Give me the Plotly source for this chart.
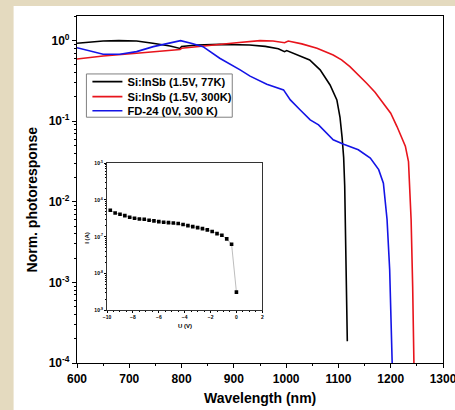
import plotly.graph_objects as go
import numpy as np

# ---------------- data ----------------
wl_77k = [600, 625, 650, 680, 714, 745, 778, 797, 800, 829, 873, 930, 960, 985, 997, 1001,
          1027, 1045, 1065, 1084, 1097, 1103, 1107, 1110, 1112, 1114, 1116, 1117]
resp_77k = [0.93, 0.966, 0.99, 1.0, 0.99, 0.927, 0.859, 0.80, 0.847, 0.885, 0.90, 0.885, 0.85,
            0.794, 0.731, 0.752, 0.634, 0.575, 0.434, 0.282, 0.184, 0.112, 0.063, 0.0355,
            0.0158, 0.00316, 0.00063, 0.000186]

wl_300k = [600, 650, 714, 778, 797, 800, 829, 873, 905, 950, 975, 997, 1004, 1030, 1059, 1090,
           1106, 1122, 1138, 1154, 1170, 1186, 1200, 1212, 1228, 1234, 1236, 1239, 1242, 1244.5]
resp_300k = [0.593, 0.646, 0.697, 0.751, 0.776, 0.804, 0.843, 0.91, 0.944, 1.0, 0.989, 0.944,
             0.991, 0.912, 0.804, 0.665, 0.577, 0.476, 0.38, 0.296, 0.229, 0.167, 0.126,
             0.0859, 0.049, 0.0316, 0.0141, 0.00603, 0.00089, 0.00009]

wl_fd24 = [600, 625, 650, 682, 714, 746, 778, 798, 820, 841, 873, 899, 912, 931, 963, 995,
           1001, 1008, 1027, 1046, 1062, 1068, 1090, 1110, 1138, 1161, 1177, 1186, 1193,
           1198, 1200.4, 1203]
resp_fd24 = [0.818, 0.741, 0.678, 0.678, 0.731, 0.843, 0.927, 1.0, 0.923, 0.843, 0.605, 0.49,
             0.434, 0.363, 0.288, 0.245, 0.212, 0.184, 0.138, 0.104, 0.0902, 0.082, 0.0589,
             0.0519, 0.0443, 0.0349, 0.0251, 0.017, 0.00603, 0.00145, 0.000347, 0.00009]

# inset I-V
u_volt = [-9.75, -9.375, -9.0, -8.625, -8.25, -7.875, -7.5, -7.125, -6.75, -6.375, -6.0,
          -5.625, -5.25, -4.875, -4.5, -4.125, -3.75, -3.375, -3.0, -2.625, -2.25, -1.875,
          -1.5, -1.125, -0.75, -0.375, 0.0]
i_amp = [5.25e-7, 4.45e-7, 4.09e-7, 3.76e-7, 3.39e-7, 3.18e-7, 3.05e-7, 2.99e-7, 2.81e-7,
         2.70e-7, 2.59e-7, 2.48e-7, 2.43e-7, 2.38e-7, 2.29e-7, 2.15e-7, 2.01e-7, 1.89e-7,
         1.78e-7, 1.67e-7, 1.54e-7, 1.39e-7, 1.22e-7, 1.10e-7, 8.77e-8, 6.30e-8, 3.15e-9]

main_exps = [-4, -3, -2, -1, 0]
inset_exps = [-9, -8, -7, -6, -5]
x_ticks = [600, 700, 800, 900, 1000, 1100, 1200, 1300]
inset_x_ticks = [-10, -8, -6, -4, -2, 0, 2]

names = ["Si:InSb (1.5V, 77K)", "Si:InSb (1.5V, 300K)", "FD-24 (0V, 300 K)"]
colors = ["#000000", "#e8141c", "#1414e6"]

# ---------------- figure ----------------
W, H = 455, 410
ml, mr, mt, mb = 77.3, 12.3, 16, 46.7
pw, ph = W - ml - mr, H - mt - mb
BEIGE = "#e4dabf"

def px2paper_x(px):
    return (px - ml) / pw

def px2paper_y(py):
    return (H - mb - py) / ph

FONT = "Liberation Sans"
legend_ids = ["legend", "legend2", "legend3"]
legend_rows_px = [81.7, 96.7, 110.9]

fig = go.Figure()
for wl, r, n, c, lg in zip([wl_77k, wl_300k, wl_fd24], [resp_77k, resp_300k, resp_fd24],
                           names, colors, legend_ids):
    fig.add_trace(go.Scatter(x=wl, y=r, name=n, mode="lines", legend=lg,
                             line=dict(color=c, width=1.6), xaxis="x", yaxis="y"))

fig.add_trace(go.Scatter(x=u_volt, y=i_amp, mode="lines+markers", showlegend=False,
                         line=dict(color="#a0a0a0", width=0.7),
                         marker=dict(symbol="square", size=3.6, color="black"),
                         xaxis="x2", yaxis="y2"))

minor_main = [m * 10.0 ** e for e in range(-4, 1) for m in range(2, 10)]
minor_inset = [m * 10.0 ** e for e in range(-9, -5) for m in range(2, 10)]

legend_cfg = {}
for lg, ypx in zip(legend_ids, legend_rows_px):
    legend_cfg[lg] = dict(x=px2paper_x(87.7), y=px2paper_y(ypx), xanchor="left", yanchor="middle",
                          bgcolor="rgba(0,0,0,0)", borderwidth=0,
                          font=dict(family=FONT, size=11.2, color="black", weight="bold"),
                          itemwidth=30)

fig.update_layout(
    width=W, height=H,
    margin=dict(l=ml, r=mr, t=mt, b=mb, pad=0, autoexpand=False),
    paper_bgcolor="white",
    plot_bgcolor="white",
    font=dict(family=FONT, color="black"),
    showlegend=True,
    **legend_cfg,
    xaxis=dict(domain=[0, 1], range=[600, 1300], tickmode="array", tickvals=x_ticks,
               automargin=False, ticklabeloverflow="allow",
               ticks="outside", ticklen=4, tickwidth=1, tickcolor="black",
               showline=True, linecolor="black", linewidth=1.2, mirror=True,
               showgrid=False, zeroline=False,
               tickfont=dict(family=FONT, size=12, weight="bold"),
               minor=dict(ticks="outside", ticklen=2, dtick=50, tick0=600, tickcolor="black", showgrid=False)),
    yaxis=dict(domain=[0, 1], type="log", range=[-4, 0.306], tickmode="array",
               automargin=False, ticklabeloverflow="allow",
               tickvals=[10.0 ** e for e in main_exps],
               ticktext=["10<sup>%d</sup>" % e for e in main_exps],
               ticks="outside", ticklen=4, tickwidth=1, tickcolor="black",
               showline=True, linecolor="black", linewidth=1.2, mirror=True,
               showgrid=False, zeroline=False,
               tickfont=dict(family=FONT, size=12, weight="bold"),
               minor=dict(ticks="outside", ticklen=2, tickmode="array", tickvals=minor_main,
                          tickcolor="black", showgrid=False)),
    xaxis2=dict(domain=[px2paper_x(107.3), px2paper_x(262.3)], anchor="y2",
                automargin=False,
                range=[-10, 2], tickmode="array", tickvals=inset_x_ticks,
                ticks="outside", ticklen=2, tickwidth=0.8, tickcolor="black",
                showline=True, linecolor="#333333", linewidth=1, mirror=True,
                showgrid=False, zeroline=False,
                tickfont=dict(family=FONT, size=5, weight="bold"),
                minor=dict(ticks="outside", ticklen=1, dtick=0.5, tick0=-10, tickcolor="black", showgrid=False)),
    yaxis2=dict(domain=[px2paper_y(310.7), px2paper_y(163.3)], anchor="x2", type="log",
                automargin=False,
                range=[-9, -5], tickmode="array",
                tickvals=[10.0 ** e for e in inset_exps],
                ticktext=["10<sup>%d</sup>" % e for e in inset_exps],
                ticks="outside", ticklen=2, tickwidth=0.8, tickcolor="black",
                showline=True, linecolor="#333333", linewidth=1, mirror=True,
                showgrid=False, zeroline=False,
                tickfont=dict(family=FONT, size=5, weight="bold"),
                minor=dict(ticks="outside", ticklen=1, tickmode="array", tickvals=minor_inset,
                           tickcolor="black", showgrid=False)),
)

# beige page border (left and top strips)
fig.add_shape(type="rect", xref="paper", yref="paper",
              x0=-1.0, x1=px2paper_x(14), y0=-1.0, y1=2.0,
              fillcolor=BEIGE, line=dict(width=0), layer="below")
fig.add_shape(type="rect", xref="paper", yref="paper",
              x0=-1.0, x1=2.0, y0=px2paper_y(6), y1=2.0,
              fillcolor=BEIGE, line=dict(width=0), layer="below")
# legend frame
fig.add_shape(type="rect", xref="paper", yref="paper",
              x0=px2paper_x(86.7), x1=px2paper_x(232.3), y0=px2paper_y(117.3), y1=px2paper_y(74),
              fillcolor="white", line=dict(width=1, color="#808080"), layer="below")

# axis titles
fig.add_annotation(text="Wavelength (nm)", xref="paper", yref="paper",
                   x=px2paper_x(259.7), y=px2paper_y(398.3), xanchor="center", yanchor="middle",
                   showarrow=False, font=dict(family=FONT, size=14, weight="bold"))
fig.add_annotation(text="Norm. photoresponse", xref="paper", yref="paper",
                   x=px2paper_x(32.3), y=px2paper_y(199.7), xanchor="center", yanchor="middle",
                   textangle=-90, showarrow=False, font=dict(family=FONT, size=14, weight="bold"))
fig.add_annotation(text="U (V)", xref="paper", yref="paper",
                   x=px2paper_x(185), y=px2paper_y(326.7), xanchor="center", yanchor="middle",
                   showarrow=False, font=dict(family=FONT, size=6, weight="bold"))
fig.add_annotation(text="I (A)", xref="paper", yref="paper",
                   x=px2paper_x(87.3), y=px2paper_y(238), xanchor="center", yanchor="middle",
                   textangle=-90, showarrow=False, font=dict(family=FONT, size=6, weight="bold"))

fig.write_html("out.html", post_script="document.body.style.margin='0';document.body.style.overflow='hidden';")
